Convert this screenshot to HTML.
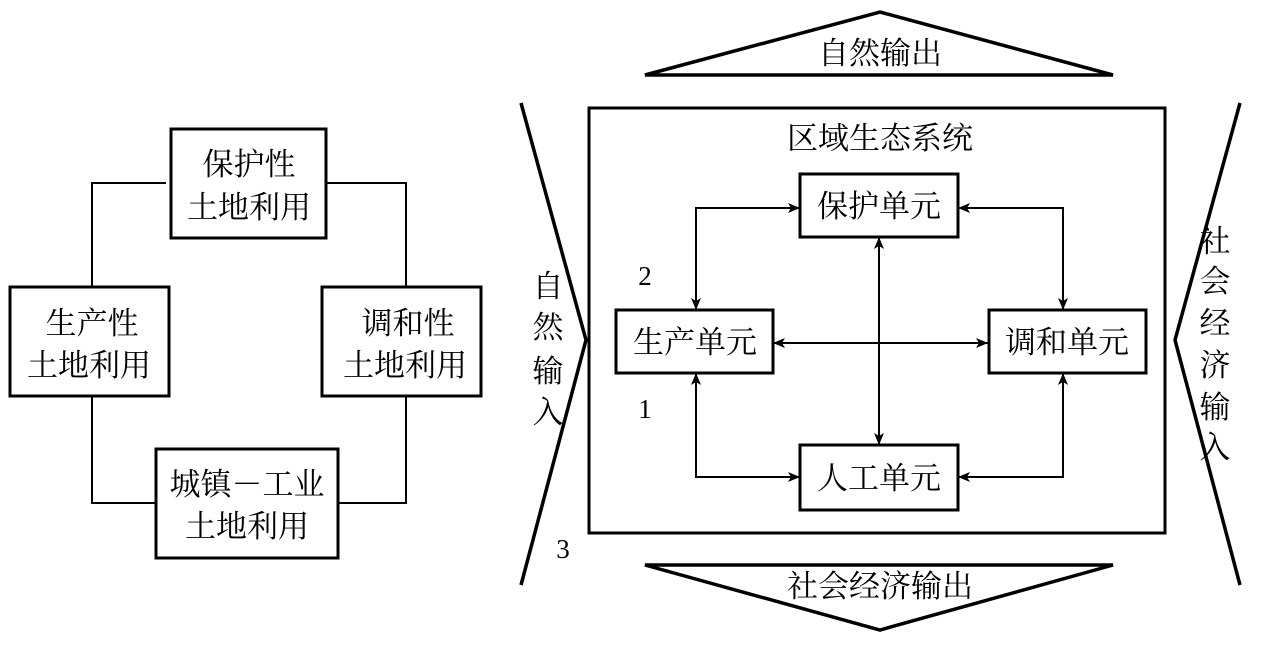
<!DOCTYPE html>
<html><head><meta charset="utf-8"><style>
html,body{margin:0;padding:0;background:#fff;}
svg text{font-family:"Liberation Serif","Noto Serif CJK SC","Noto Sans CJK SC",serif;fill:#000;}
</style></head><body>
<svg width="1266" height="651" viewBox="0 0 1266 651" xmlns="http://www.w3.org/2000/svg">
<defs>
<marker id="a" viewBox="0 0 12 10" refX="12" refY="5" markerWidth="13" markerHeight="10" markerUnits="userSpaceOnUse" orient="auto-start-reverse">
<path d="M0,0 L12,5 L0,10 L3,5 z" fill="#000"/></marker>
</defs>
<g fill="none" stroke="#000" stroke-width="2">
<polyline points="166,183 92,183 92,287"/>
<polyline points="92,397 92,503 155,503"/>
<polyline points="326,183 406,183 406,287"/>
<polyline points="406,397 406,503 338,503"/>
</g>
<g fill="#fff" stroke="#000" stroke-width="3">
<rect x="171" y="129" width="155" height="109"/>
<rect x="10" y="287" width="159" height="109"/>
<rect x="322" y="287" width="159" height="109"/>
<rect x="156" y="449" width="182" height="109"/>
</g>
<g font-size="31" text-anchor="middle">
<text x="249" y="175">保护性</text>
<text x="249" y="218">土地利用</text>
<text x="92" y="334">生产性</text>
<text x="89" y="376">土地利用</text>
<text x="408" y="334">调和性</text>
<text x="405" y="376">土地利用</text>
<text x="247" y="495">城镇－工业</text>
<text x="247" y="537">土地利用</text>
</g>
<g fill="none" stroke="#000" stroke-width="3.5">
<polygon points="645,75 880,12 1113,75"/>
<polygon points="645,565 1113,565 880,630"/>
<polyline points="521,103 586,340 521,585"/>
<polyline points="1240,103 1175,340 1240,585"/>
<rect x="589" y="108" width="576" height="425" stroke-width="3"/>
</g>
<g fill="none" stroke="#000" stroke-width="2">
<polyline points="800,208 696,208 696,310" marker-start="url(#a)" marker-end="url(#a)"/>
<polyline points="958,208 1063,208 1063,310" marker-start="url(#a)" marker-end="url(#a)"/>
<polyline points="696,373 696,477 800,477" marker-start="url(#a)" marker-end="url(#a)"/>
<polyline points="1063,373 1063,477 958,477" marker-start="url(#a)" marker-end="url(#a)"/>
<line x1="879" y1="237" x2="879" y2="445" marker-start="url(#a)" marker-end="url(#a)"/>
<line x1="773" y1="343" x2="988" y2="343" marker-start="url(#a)" marker-end="url(#a)"/>
</g>
<g fill="#fff" stroke="#000" stroke-width="3">
<rect x="800" y="174" width="158" height="63"/>
<rect x="616" y="310" width="157" height="63"/>
<rect x="989" y="310" width="157" height="63"/>
<rect x="800" y="445" width="158" height="65"/>
</g>
<g font-size="31" text-anchor="middle">
<text x="880" y="64">自然输出</text>
<text x="880" y="149">区域生态系统</text>
<text x="879" y="217">保护单元</text>
<text x="695" y="353">生产单元</text>
<text x="1067" y="353">调和单元</text>
<text x="879" y="489">人工单元</text>
<text x="880" y="597">社会经济输出</text>
<text x="548" y="297">自</text>
<text x="548" y="338">然</text>
<text x="548" y="382">输</text>
<text x="548" y="423">入</text>
<text x="1215" y="252">社</text>
<text x="1215" y="292">会</text>
<text x="1215" y="334">经</text>
<text x="1215" y="376">济</text>
<text x="1215" y="418">输</text>
<text x="1215" y="458">入</text>
</g>
<g font-size="27" text-anchor="middle">
<text x="645" y="285">2</text>
<text x="645" y="418">1</text>
<text x="563" y="558">3</text>
</g>
</svg>
</body></html>
